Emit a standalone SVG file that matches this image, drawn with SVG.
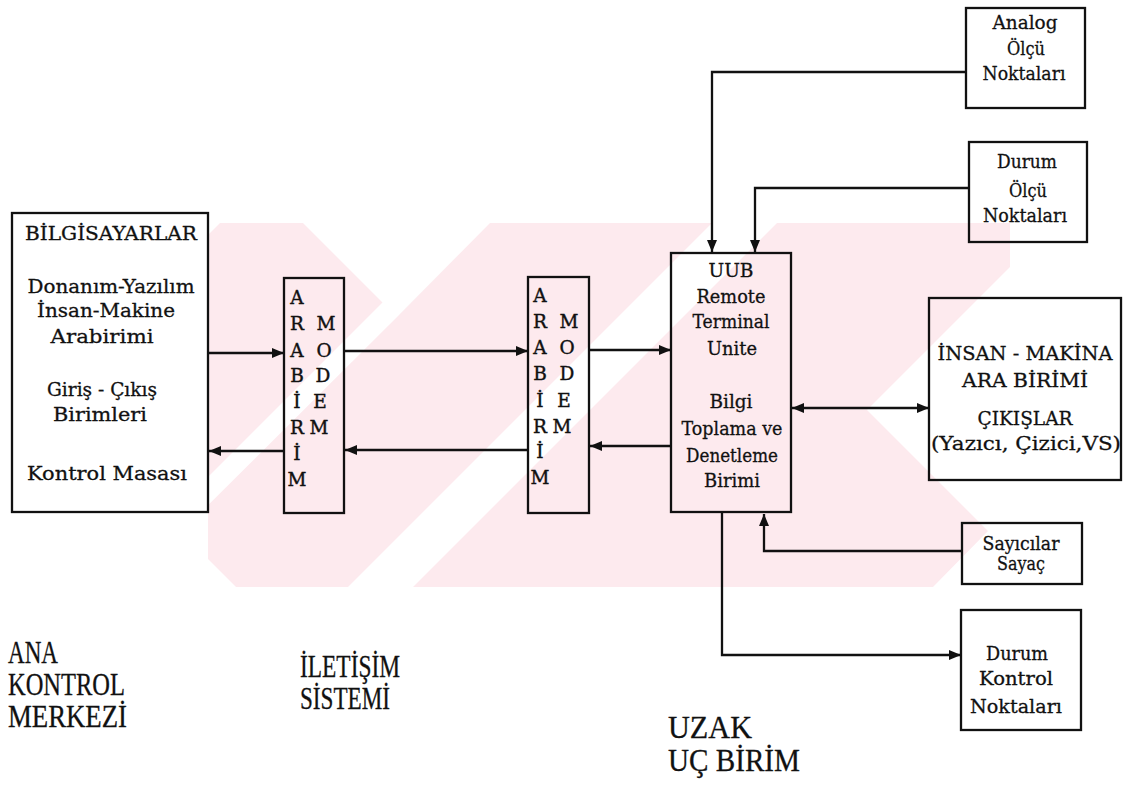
<svg xmlns="http://www.w3.org/2000/svg" width="1124" height="785" viewBox="0 0 1124 785">
<defs>
<marker id="ah" viewBox="0 0 12 10" refX="12" refY="5" markerWidth="12" markerHeight="10" markerUnits="userSpaceOnUse" orient="auto-start-reverse">
<path d="M0,0 L12,5 L0,10 z" fill="#111"/>
</marker>
<clipPath id="wmclip">
<polygon points="220,223 1010,223 1010,267 867,410 988,531 933,587 236,587 208,559 208,235"/>
</clipPath>
<style>
.box{fill:none;stroke:#111;stroke-width:2.3}
.c{fill:none;stroke:#111;stroke-width:2.3}
.t{font-size:19px;text-anchor:middle;fill:#111;stroke:#111;stroke-width:0.3}
.m{font-size:18.5px;text-anchor:middle;fill:#111;stroke:#111;stroke-width:0.4}
.big{font-size:31px;fill:#111;stroke:#111;stroke-width:0.3}
.wm{fill:#fdeaee}
</style>
</defs>
<rect width="1124" height="785" fill="#fff"/>
<g id="watermark" clip-path="url(#wmclip)">
<rect class="wm" x="200" y="223" width="810" height="364"/>
<polygon points="303,223 490,223 397,317" fill="#fff"/>
<polygon points="397,317 397,288 100,585 100,613" fill="#fff"/>
<polygon points="712,223 777,223 413,587 348,587" fill="#fff"/>
</g>
<g id="connectors">
<line class="c" x1="208" y1="353" x2="284" y2="353" marker-end="url(#ah)"/>
<line class="c" x1="284" y1="451" x2="209" y2="451" marker-end="url(#ah)"/>
<line class="c" x1="344" y1="351" x2="528" y2="351" marker-end="url(#ah)"/>
<line class="c" x1="528" y1="450" x2="345" y2="450" marker-end="url(#ah)"/>
<line class="c" x1="589" y1="350" x2="671" y2="350" marker-end="url(#ah)"/>
<line class="c" x1="671" y1="446" x2="590" y2="446" marker-end="url(#ah)"/>
<path class="c" d="M966,72 H712 V252" marker-end="url(#ah)"/>
<path class="c" d="M969,188 H755 V252" marker-end="url(#ah)"/>
<line class="c" x1="792" y1="408" x2="929" y2="408" marker-start="url(#ah)" marker-end="url(#ah)"/>
<path class="c" d="M962,551 H764 V514" marker-end="url(#ah)"/>
<path class="c" d="M722,512 V655 H961" marker-end="url(#ah)"/>
</g>
<g font-family="'DejaVu Serif', 'Liberation Serif', serif">
<g id="bilgisayarlar">
<rect class="box" x="12" y="213" width="196" height="299"/>
<text class="t" x="111" y="240" textLength="172" lengthAdjust="spacingAndGlyphs">BİLGİSAYARLAR</text>
<text class="t" x="111" y="293" textLength="167" lengthAdjust="spacingAndGlyphs">Donanım-Yazılım</text>
<text class="t" x="106" y="317" textLength="138" lengthAdjust="spacingAndGlyphs">İnsan-Makine</text>
<text class="t" x="102" y="343" textLength="103" lengthAdjust="spacingAndGlyphs">Arabirimi</text>
<text class="t" x="102" y="396" textLength="110" lengthAdjust="spacingAndGlyphs">Giriş - Çıkış</text>
<text class="t" x="100" y="421" textLength="94" lengthAdjust="spacingAndGlyphs">Birimleri</text>
<text class="t" x="107" y="480" textLength="160" lengthAdjust="spacingAndGlyphs">Kontrol  Masası</text>
</g>
<g id="modem1">
<rect class="box" x="284" y="278" width="60" height="235"/>
<text class="m" x="297" y="304">A</text>
<text class="m" x="297" y="330">R</text>
<text class="m" x="297" y="357">A</text>
<text class="m" x="297" y="382">B</text>
<text class="m" x="297" y="408">İ</text>
<text class="m" x="297" y="434">R</text>
<text class="m" x="297" y="460">İ</text>
<text class="m" x="297" y="486">M</text>
<text class="m" x="326" y="330">M</text>
<text class="m" x="324" y="357">O</text>
<text class="m" x="323" y="382">D</text>
<text class="m" x="320" y="408">E</text>
<text class="m" x="319" y="434">M</text>
</g>
<g id="modem2">
<rect class="box" x="528" y="277" width="61" height="236"/>
<text class="m" x="540" y="302">A</text>
<text class="m" x="540" y="328">R</text>
<text class="m" x="540" y="354">A</text>
<text class="m" x="540" y="380">B</text>
<text class="m" x="540" y="407">İ</text>
<text class="m" x="540" y="433">R</text>
<text class="m" x="540" y="458">İ</text>
<text class="m" x="540" y="484">M</text>
<text class="m" x="569" y="328">M</text>
<text class="m" x="567" y="354">O</text>
<text class="m" x="567" y="380">D</text>
<text class="m" x="564" y="407">E</text>
<text class="m" x="562" y="433">M</text>
</g>
<g id="uub">
<rect class="box" x="671" y="253" width="120" height="259"/>
<text class="t" x="731" y="277" textLength="45" lengthAdjust="spacingAndGlyphs">UUB</text>
<text class="t" x="731" y="303" textLength="69" lengthAdjust="spacingAndGlyphs">Remote</text>
<text class="t" x="731" y="328" textLength="77" lengthAdjust="spacingAndGlyphs">Terminal</text>
<text class="t" x="732" y="355" textLength="50" lengthAdjust="spacingAndGlyphs">Unite</text>
<text class="t" x="731" y="408" textLength="43" lengthAdjust="spacingAndGlyphs">Bilgi</text>
<text class="t" x="732" y="435" textLength="101" lengthAdjust="spacingAndGlyphs">Toplama ve</text>
<text class="t" x="732" y="462" textLength="92" lengthAdjust="spacingAndGlyphs">Denetleme</text>
<text class="t" x="732" y="487" textLength="56" lengthAdjust="spacingAndGlyphs">Birimi</text>
</g>
<g id="analog">
<rect class="box" x="966" y="8" width="119" height="100"/>
<text class="t" x="1025" y="29" textLength="65" lengthAdjust="spacingAndGlyphs">Analog</text>
<text class="t" x="1026" y="55" textLength="38" lengthAdjust="spacingAndGlyphs">Ölçü</text>
<text class="t" x="1024" y="80" textLength="83" lengthAdjust="spacingAndGlyphs">Noktaları</text>
</g>
<g id="durum-olcu">
<rect class="box" x="969" y="142" width="118" height="100"/>
<text class="t" x="1027" y="168" textLength="60" lengthAdjust="spacingAndGlyphs">Durum</text>
<text class="t" x="1028" y="197" textLength="38" lengthAdjust="spacingAndGlyphs">Ölçü</text>
<text class="t" x="1025" y="222" textLength="84" lengthAdjust="spacingAndGlyphs">Noktaları</text>
</g>
<g id="insan-makina">
<rect class="box" x="929" y="298" width="192" height="182"/>
<text class="t" x="1025" y="360" textLength="175" lengthAdjust="spacingAndGlyphs">İNSAN - MAKİNA</text>
<text class="t" x="1025" y="387" textLength="126" lengthAdjust="spacingAndGlyphs">ARA BİRİMİ</text>
<text class="t" x="1025" y="425" textLength="95" lengthAdjust="spacingAndGlyphs">ÇIKIŞLAR</text>
<text class="t" x="1026" y="450" textLength="190" lengthAdjust="spacingAndGlyphs">(Yazıcı, Çizici,VS)</text>
</g>
<g id="sayicilar">
<rect class="box" x="962" y="523" width="120" height="61"/>
<text class="t" x="1021" y="550" textLength="77" lengthAdjust="spacingAndGlyphs">Sayıcılar</text>
<text class="t" x="1021" y="570" textLength="48" lengthAdjust="spacingAndGlyphs">Sayaç</text>
</g>
<g id="durum-kontrol">
<rect class="box" x="961" y="610" width="120" height="120"/>
<text class="t" x="1017" y="660" textLength="62" lengthAdjust="spacingAndGlyphs">Durum</text>
<text class="t" x="1016" y="685" textLength="74" lengthAdjust="spacingAndGlyphs">Kontrol</text>
<text class="t" x="1016" y="713" textLength="92" lengthAdjust="spacingAndGlyphs">Noktaları</text>
</g>
</g>
<g id="labels" font-family="'Liberation Serif', 'Times New Roman', serif">
<text class="big" x="8" y="663" textLength="50" lengthAdjust="spacingAndGlyphs">ANA</text>
<text class="big" x="8" y="695" textLength="117" lengthAdjust="spacingAndGlyphs">KONTROL</text>
<text class="big" x="8" y="727" textLength="119" lengthAdjust="spacingAndGlyphs">MERKEZİ</text>
<text class="big" x="300" y="677" textLength="100" lengthAdjust="spacingAndGlyphs">İLETİŞİM</text>
<text class="big" x="300" y="709" textLength="90" lengthAdjust="spacingAndGlyphs">SİSTEMİ</text>
<text class="big" x="668" y="738" textLength="84" lengthAdjust="spacingAndGlyphs">UZAK</text>
<text class="big" x="668" y="771" textLength="132" lengthAdjust="spacingAndGlyphs">UÇ BİRİM</text>
</g>
</svg>
